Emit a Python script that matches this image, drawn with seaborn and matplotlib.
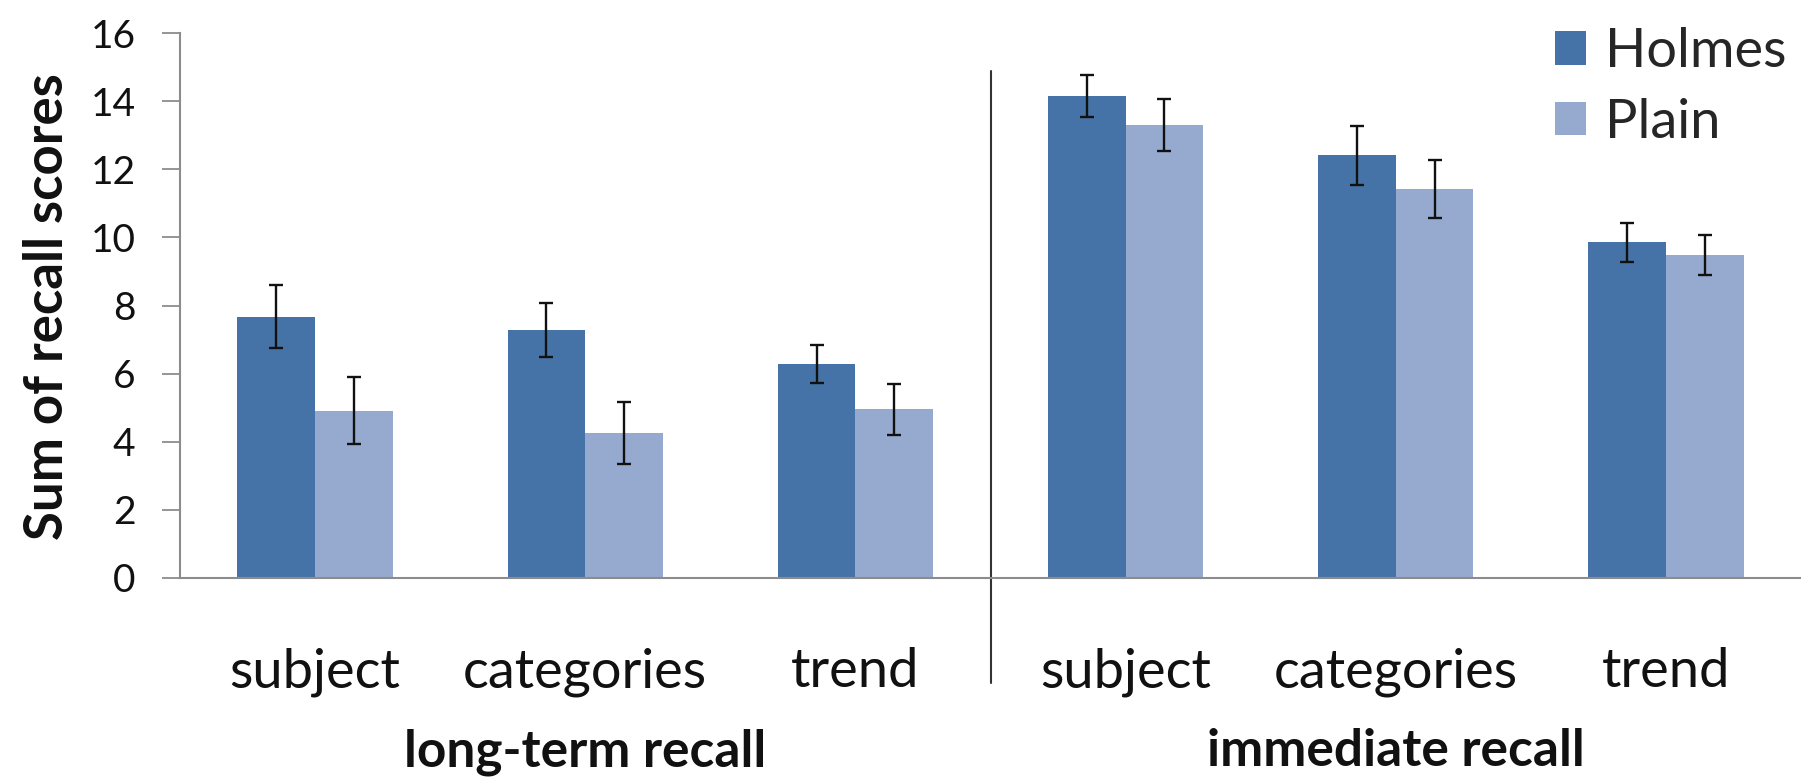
import matplotlib
matplotlib.use("Agg")
import matplotlib.pyplot as plt
import matplotlib.transforms as mtransforms
from matplotlib.lines import Line2D
from matplotlib.patches import Patch
import seaborn as sns
import pandas as pd
import numpy as np

# ---- data ----
categories = ["subject", "categories", "trend", "subject", "categories", "trend"]
groups = ["long-term recall", "immediate recall"]
holmes = [7.67, 7.28, 6.28, 14.15, 12.41, 9.85]
holmes_err = [0.93, 0.79, 0.55, 0.63, 0.87, 0.58]
plain = [4.91, 4.27, 4.95, 13.30, 11.42, 9.49]
plain_err = [0.98, 0.91, 0.75, 0.75, 0.84, 0.58]
series = ["Holmes", "Plain"]
yticks = [0, 2, 4, 6, 8, 10, 12, 14, 16]

keys = [f"{g}|{c}" for g in groups for c in categories[:3]]
df = pd.DataFrame({
    "key": keys * 2,
    "value": holmes + plain,
    "series": [series[0]] * 6 + [series[1]] * 6,
})

sns.set_theme(style="white")
plt.rcParams["font.family"] = ["Lato", "DejaVu Sans"]

W, H = 1801, 779
fig = plt.figure(figsize=(W / 100, H / 100), dpi=100)
left, right_px, top, bottom = 180, 1812, 33, 578
ax = fig.add_axes([left / W, (H - bottom) / H, (W - left) / W, (bottom - top) / H])

colors = {"Holmes": "#4673A7", "Plain": "#96AACF"}
bw = 0.575
sns.barplot(data=df, x="key", y="value", hue="series", order=keys,
            hue_order=series, palette=colors, width=bw, dodge=True,
            saturation=1, ax=ax, legend=False, linewidth=0, errorbar=None)

xs = np.arange(6)
ax.errorbar(xs - bw / 4, holmes, yerr=holmes_err, fmt="none", ecolor="#111111",
            elinewidth=1.7, capsize=5, capthick=1.7, zorder=5)
ax.errorbar(xs + bw / 4, plain, yerr=plain_err, fmt="none", ecolor="#111111",
            elinewidth=1.7, capsize=5, capthick=1.7, zorder=5)

ax.set_xlim(-0.5, -0.5 + (W - left) / ((right_px - left) / 6))
ax.set_ylim(0, 16)
ax.set_yticks(yticks)
ax.set_yticklabels([str(v) for v in yticks], fontsize=28, color="#111111")
ax.set_xticks(xs)
ax.set_xticklabels(categories, fontsize=39, color="#111111")
ax.set_xticks(np.arange(-0.5, 6.0, 1.0), minor=True)
ax.tick_params(axis="x", which="major", length=0, pad=50)
ax.tick_params(axis="x", which="minor", length=17, width=1.3, color="#8c8c8c", direction="out")
ax.tick_params(axis="y", which="major", length=13, width=1.3, color="#8c8c8c", direction="out", left=True, pad=19)
ax.set_xlabel("")
ax.set_ylabel("")
fig.text(48 / W, 1 - 307 / H, "Sum of recall scores", rotation=90, ha="center", va="center",
         fontsize=38, fontweight="bold", color="#111111")

for s in ["top", "right"]:
    ax.spines[s].set_visible(False)
for s in ["left", "bottom"]:
    ax.spines[s].set_color("#8c8c8c")
    ax.spines[s].set_linewidth(1.5)

# divider between groups
ax.add_line(Line2D([2.5, 2.5], [(bottom - 71) / (bottom - top), (bottom - 683) / (bottom - top)],
                   transform=mtransforms.blended_transform_factory(ax.transData, ax.transAxes),
                   color="#333333", lw=1.5, clip_on=False))

# group labels
trans = mtransforms.blended_transform_factory(ax.transData, fig.transFigure)
for i, g in enumerate(groups):
    ax.text(1 + 3 * i, (H - 766) / H, g, transform=trans, ha="center", va="baseline",
            fontsize=37, fontweight="bold", color="#111111")

handles = [Patch(facecolor=colors[s], edgecolor="none", label=s) for s in series]
fig.legend(handles=handles, loc="upper left", bbox_to_anchor=(1555 / W, 1 - 27 / H),
           frameon=False, fontsize=39, handlelength=0.57, handleheight=0.57,
           handletextpad=0.35, labelspacing=0.40, borderaxespad=0, borderpad=0)

fig.savefig("out.png", dpi=100)
